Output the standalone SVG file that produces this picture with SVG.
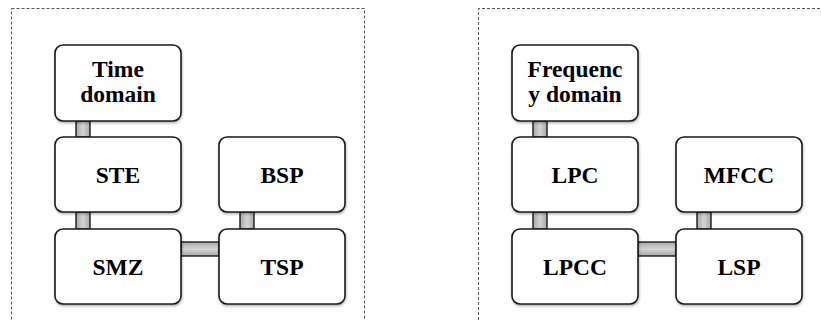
<svg xmlns="http://www.w3.org/2000/svg" width="821" height="320" viewBox="0 0 821 320">
<style>
.panel{fill:none;stroke:#555;stroke-width:1;stroke-dasharray:3,2}
.box{fill:#fff;stroke:#1a1a1a;stroke-width:1.6}
.lbl{font-family:"Liberation Serif","Times New Roman",serif;font-weight:bold;font-size:23.5px;fill:#000;text-anchor:middle}
.cv{fill:url(#gv);stroke:#1a1a1a;stroke-width:1.4}
.ch{fill:url(#gh);stroke:#1a1a1a;stroke-width:1.4}
</style>
<defs>
<linearGradient id="gv" x1="0" y1="0" x2="1" y2="0">
<stop offset="0" stop-color="#a8a8a8"/><stop offset="0.5" stop-color="#d4d4d4"/><stop offset="1" stop-color="#a8a8a8"/>
</linearGradient>
<linearGradient id="gh" x1="0" y1="0" x2="0" y2="1">
<stop offset="0" stop-color="#a8a8a8"/><stop offset="0.5" stop-color="#d4d4d4"/><stop offset="1" stop-color="#a8a8a8"/>
</linearGradient>
<filter id="sh" x="-10%" y="-10%" width="125%" height="130%">
<feDropShadow dx="0.5" dy="1.5" stdDeviation="1" flood-color="#000" flood-opacity="0.3"/>
</filter>
</defs>
<rect class="panel" x="11.5" y="8.5" width="353" height="330"/>
<path class="panel" d="M478.5 330 V8.5 H830"/>
<g id="connectors">
<rect class="cv" x="76" y="121" width="14" height="16"/>
<rect class="cv" x="76" y="212" width="14" height="17"/>
<rect class="cv" x="240" y="212" width="14" height="17"/>
<rect class="ch" x="181" y="242" width="38" height="14"/>
<rect class="cv" x="533" y="121" width="14" height="16"/>
<rect class="cv" x="533" y="212" width="14" height="17"/>
<rect class="cv" x="697" y="212" width="14" height="17"/>
<rect class="ch" x="638" y="242" width="38" height="14"/>
</g>
<g id="time-domain"><rect class="box" filter="url(#sh)" x="55" y="45" width="126" height="76" rx="8"/><text class="lbl" x="118" y="77">Time</text><text class="lbl" x="118" y="102">domain</text></g>
<g id="ste"><rect class="box" filter="url(#sh)" x="55" y="137" width="126" height="75" rx="8"/><text class="lbl" x="118" y="183">STE</text></g>
<g id="smz"><rect class="box" filter="url(#sh)" x="55" y="229" width="126" height="75" rx="8"/><text class="lbl" x="118" y="275">SMZ</text></g>
<g id="bsp"><rect class="box" filter="url(#sh)" x="219" y="137" width="126" height="75" rx="8"/><text class="lbl" x="282" y="183">BSP</text></g>
<g id="tsp"><rect class="box" filter="url(#sh)" x="219" y="229" width="126" height="75" rx="8"/><text class="lbl" x="282" y="275">TSP</text></g>
<g id="frequency-domain"><rect class="box" filter="url(#sh)" x="512" y="45" width="126" height="76" rx="8"/><text class="lbl" x="575" y="77">Frequenc</text><text class="lbl" x="575" y="102">y domain</text></g>
<g id="lpc"><rect class="box" filter="url(#sh)" x="512" y="137" width="126" height="75" rx="8"/><text class="lbl" x="575" y="183">LPC</text></g>
<g id="lpcc"><rect class="box" filter="url(#sh)" x="512" y="229" width="126" height="75" rx="8"/><text class="lbl" x="575" y="275">LPCC</text></g>
<g id="mfcc"><rect class="box" filter="url(#sh)" x="676" y="137" width="126" height="75" rx="8"/><text class="lbl" x="739" y="183">MFCC</text></g>
<g id="lsp"><rect class="box" filter="url(#sh)" x="676" y="229" width="126" height="75" rx="8"/><text class="lbl" x="739" y="275">LSP</text></g>
</svg>
